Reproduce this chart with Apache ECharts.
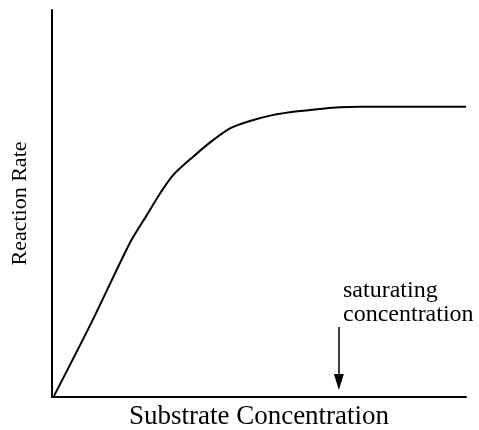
<!DOCTYPE html>
<html>
<head>
<meta charset="utf-8">
<script src="https://cdn.jsdelivr.net/npm/echarts@6/dist/echarts.min.js"></script>
<style>html,body{margin:0;padding:0;background:#fff;}#c{width:479px;height:430px;}</style>
</head>
<body>
<div id="c"></div>
<script>
var xTitle = 'Substrate Concentration';
var yTitle = 'Reaction Rate';
var annotation = ['saturating', 'concentration'];
var curveX = [0.5, 9.7, 18.8, 22.9, 26.1, 29.3, 34.1, 38.2, 43.0, 47.8, 53.5, 59.9, 66.4, 69.6, 74.4, 100];
var curveY = [0.3, 19.6, 39.8, 47.0, 52.6, 57.4, 62.1, 65.8, 69.4, 71.3, 72.9, 73.9, 74.6, 74.9, 75.0, 75.0];
var arrowX = 69.3;
var arrowY = [18.1, 3.9];

var chart = echarts.init(document.getElementById('c'), null, {renderer: 'canvas'});
var font = '"Liberation Serif", "Times New Roman", serif';
chart.setOption({
  animation: false,
  grid: {left: 52, right: 13, top: 10, bottom: 33, containLabel: false, outerBoundsMode: 'none'},
  xAxis: {
    type: 'value', min: 0, max: 100,
    name: xTitle, nameLocation: 'middle', nameGap: 6,
    nameTextStyle: {fontFamily: font, fontSize: 27, color: '#000', verticalAlign: 'top'},
    axisLine: {lineStyle: {color: '#000', width: 2}},
    axisTick: {show: false}, axisLabel: {show: false}, splitLine: {show: false}
  },
  yAxis: {
    type: 'value', min: 0, max: 100,
    name: yTitle, nameLocation: 'middle', nameGap: 21,
    nameTextStyle: {fontFamily: font, fontSize: 22, color: '#000'},
    axisLine: {show: true, lineStyle: {color: '#000', width: 2}},
    axisTick: {show: false}, axisLabel: {show: false}, splitLine: {show: false}
  },
  series: [{
    type: 'line',
    data: curveX.map(function (x, i) { return [x, curveY[i]]; }),
    smooth: 0.25,
    showSymbol: false,
    lineStyle: {color: '#000', width: 2},
    markLine: {
      silent: true,
      symbol: ['none', 'triangle'],
      symbolSize: [10, 16],
      lineStyle: {color: '#000', width: 1.5, type: 'solid'},
      label: {show: false},
      data: [[{coord: [arrowX, arrowY[0]]}, {coord: [arrowX, arrowY[1]]}]]
    }
  }],
  graphic: [{
    type: 'text', left: 343, top: 279,
    style: {text: annotation.join('\n'), font: '24px ' + font, fill: '#000', lineHeight: 24}
  }]
});
</script>
</body>
</html>
